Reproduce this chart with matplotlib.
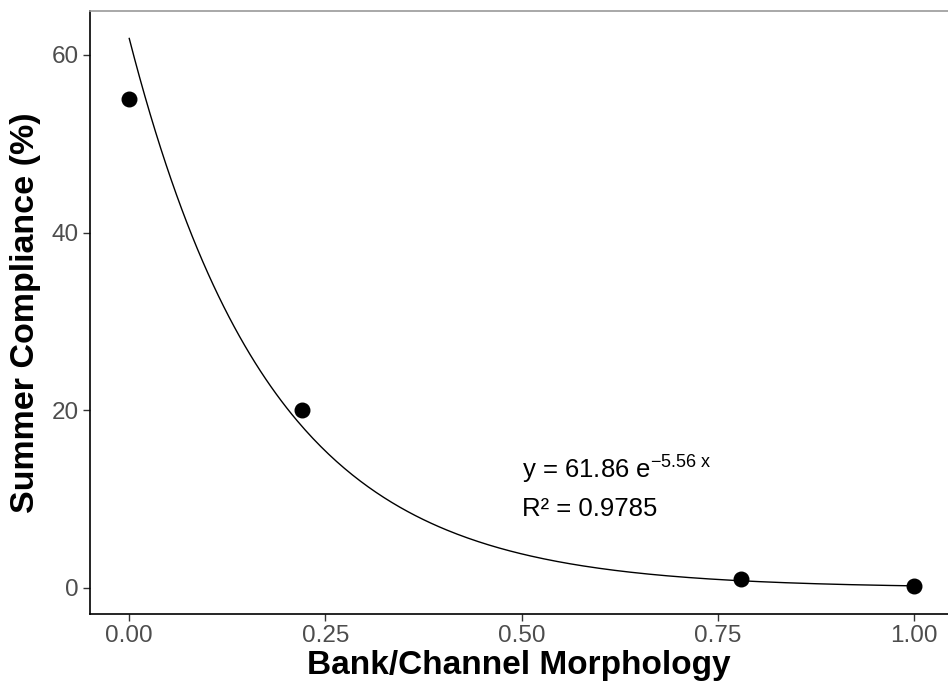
import numpy as np
import matplotlib
matplotlib.use("Agg")
import matplotlib.pyplot as plt

plt.rcParams['font.family'] = ['Liberation Sans', 'DejaVu Sans']
plt.rcParams['mathtext.fontset'] = 'custom'
plt.rcParams['mathtext.rm'] = 'Liberation Sans'
plt.rcParams['mathtext.it'] = 'Liberation Sans'

# observed points
morph = [0.0, 0.22, 0.78, 1.0]
compliance = [55.0, 20.0, 1.0, 0.2]

# exponential fit y = a * exp(b * x)
fit_a = 61.86
fit_b = -5.56
fit_r2 = 0.9785

xticks = [0.0, 0.25, 0.50, 0.75, 1.00]
xticklabels = ['0.00', '0.25', '0.50', '0.75', '1.00']
yticks = [0, 20, 40, 60]

fig = plt.figure(figsize=(9.48, 6.88), dpi=100)
ax = fig.add_axes([90 / 948, 1 - 614 / 688, 1 - 90 / 948, (614 - 11) / 688])

xs = np.linspace(0, 1, 300)
ax.plot(xs, fit_a * np.exp(fit_b * xs), color='black', lw=1.0, zorder=2)
ax.scatter(morph, compliance, s=110, color='black', zorder=3)

ax.text(0.50, 13.3, r'y = 61.86 e$^{\mathrm{-5.56\ x}}$', fontsize=18.5,
        ha='left', va='center')
ax.text(0.50, 8.9, 'R² = %.4f' % fit_r2, fontsize=18.5, ha='left', va='center')

ax.set_xlim(-0.05, 1.0433)
ax.set_ylim(-2.93, 64.95)
ax.set_xticks(xticks)
ax.set_xticklabels(xticklabels)
ax.set_yticks(yticks)
ax.tick_params(labelsize=17.5, length=5, width=1.0, color='#333333',
               labelcolor='#4d4d4d', pad=3)

ax.spines['right'].set_visible(False)
ax.spines['top'].set_color('#999999')
ax.spines['top'].set_linewidth(1.2)
for side in ['left', 'bottom']:
    ax.spines[side].set_color('black')
    ax.spines[side].set_linewidth(1.2)

ax.set_xlabel('Bank/Channel Morphology', fontsize=24, fontweight='bold', labelpad=2)
ax.set_ylabel('Summer Compliance (%)', fontsize=24.5, fontweight='bold', labelpad=8)

fig.savefig('out.png', dpi=100)
